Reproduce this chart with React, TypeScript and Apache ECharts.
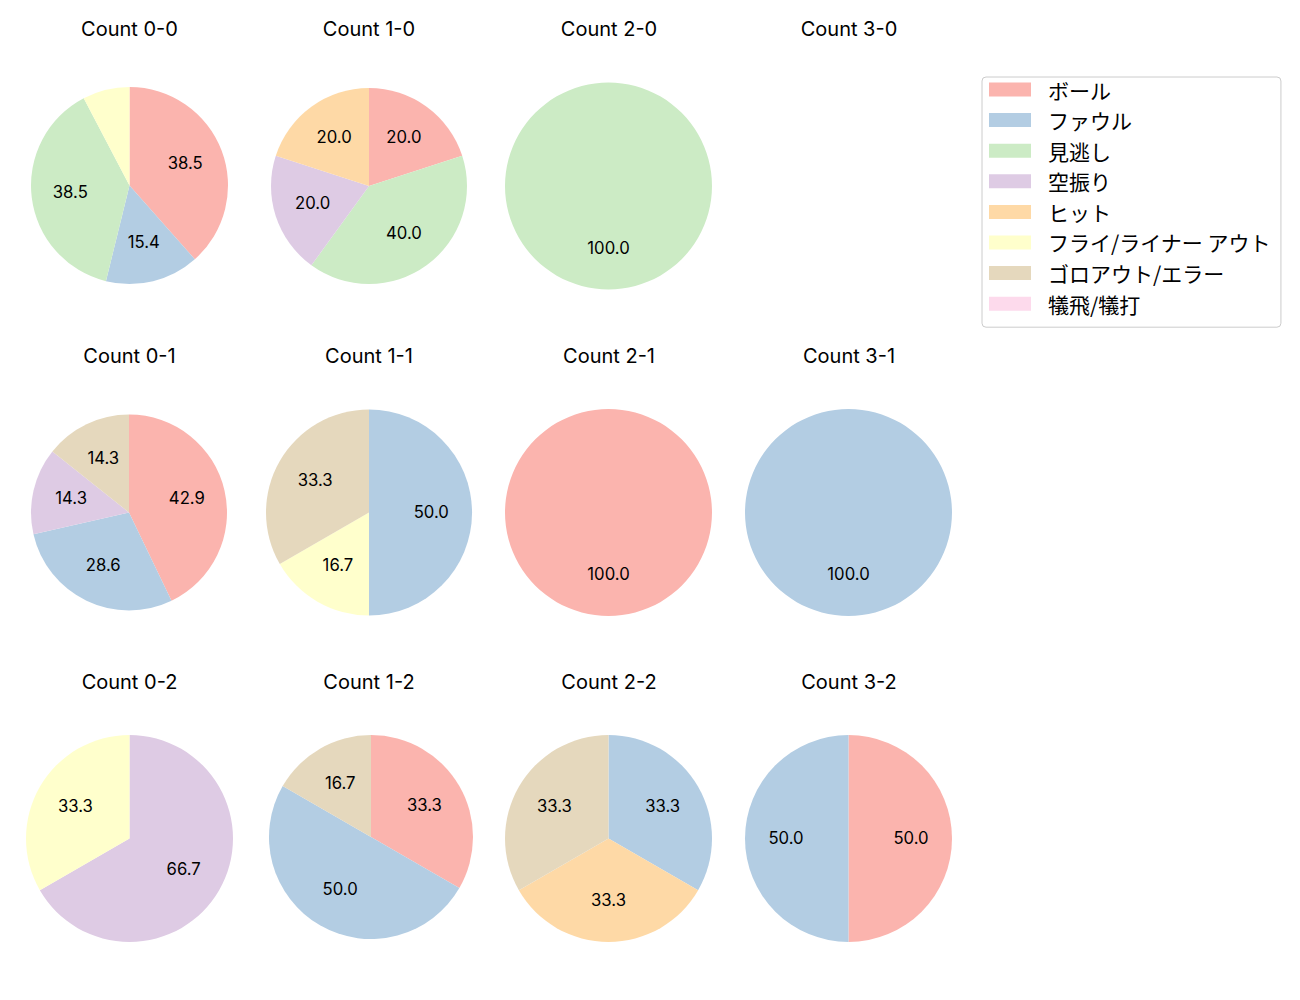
import React, { useEffect, useRef } from 'react';
import * as echarts from 'echarts';

const categories = [
  'ボール',
  'ファウル',
  '見逃し',
  '空振り',
  'ヒット',
  'フライ/ライナー アウト',
  'ゴロアウト/エラー',
  '犠飛/犠打',
];
const palette = ['#fbb4ae', '#b3cde3', '#ccebc5', '#decbe4', '#fed9a6', '#ffffcc', '#e5d8bd', '#fddaec'];

const countNames = ['0-0', '1-0', '2-0', '3-0', '0-1', '1-1', '2-1', '3-1', '0-2', '1-2', '2-2', '3-2'];

// pitch counts per category (same order as categories)
const count00 = [5, 2, 5, 0, 0, 1, 0, 0];
const count10 = [1, 0, 2, 1, 1, 0, 0, 0];
const count20 = [0, 0, 1, 0, 0, 0, 0, 0];
const count30 = [0, 0, 0, 0, 0, 0, 0, 0];
const count01 = [3, 2, 0, 1, 0, 0, 1, 0];
const count11 = [0, 3, 0, 0, 0, 1, 2, 0];
const count21 = [1, 0, 0, 0, 0, 0, 0, 0];
const count31 = [0, 1, 0, 0, 0, 0, 0, 0];
const count02 = [0, 0, 0, 2, 0, 1, 0, 0];
const count12 = [2, 3, 0, 0, 0, 0, 1, 0];
const count22 = [0, 1, 0, 0, 1, 0, 1, 0];
const count32 = [1, 1, 0, 0, 0, 0, 0, 0];
const countValues = [count00, count10, count20, count30, count01, count11, count21, count31, count02, count12, count22, count32];

// layout (pixels)
const pieCenterX = [129.5, 369, 608.5, 848.5, 129, 369, 608.5, 848.5, 129.5, 371, 608.5, 848.5];
const pieCenterY = [185.5, 186, 186, 186, 512.5, 512.5, 512.5, 512.5, 838.5, 837, 838.5, 838.5];
const pieRadius = [98.5, 98, 103.5, 103.5, 98, 103, 103.5, 103.5, 103.5, 102, 103.5, 103.5];
const titleX = [129.5, 369, 609, 849];
const titleY = [29, 356, 682];

const LATIN_FONT = "Inter, 'Noto Sans CJK JP'";
const CJK_FONT = "'Noto Sans CJK JP'";

export default function App() {
  const ref = useRef<HTMLDivElement>(null);
  useEffect(() => {
    document.body.style.margin = '0';
    const chart = echarts.init(ref.current!, null, { renderer: 'svg' });

    const titles: any[] = countNames.map((n, i) => ({
      text: 'Count ' + n,
      left: titleX[i % 4],
      top: titleY[Math.floor(i / 4)] - 11,
      textAlign: 'center',
      padding: 0,
      textStyle: { fontFamily: LATIN_FONT, fontSize: 20, fontWeight: 'normal', color: '#000', lineHeight: 22 },
    }));

    const pieSeries: any[] = [];
    const labelSeries: any[] = [];
    countValues.forEach((vals, i) => {
      const sum = vals.reduce((a, b) => a + b, 0);
      if (sum === 0) return;
      const center = [pieCenterX[i], pieCenterY[i]];
      const r = pieRadius[i];
      pieSeries.push({
        type: 'pie',
        name: 'Count ' + countNames[i],
        center,
        radius: [0, r],
        startAngle: 90,
        clockwise: true,
        silent: true,
        avoidLabelOverlap: false,
        label: { show: false },
        labelLine: { show: false },
        emphasis: { disabled: true },
        itemStyle: { borderWidth: 0 },
        data: categories.map((c, k) => ({ name: c, value: vals[k], itemStyle: { color: palette[k] } })),
      });
      labelSeries.push({
        type: 'pie',
        name: 'Count ' + countNames[i] + ' labels',
        center,
        radius: [0.15 * r, r],
        startAngle: 90,
        clockwise: true,
        silent: true,
        avoidLabelOverlap: false,
        emphasis: { disabled: true },
        itemStyle: { color: 'rgba(0,0,0,0)', borderWidth: 0 },
        labelLine: { show: false },
        label: {
          show: true,
          position: 'inside',
          fontFamily: LATIN_FONT,
          fontSize: 16.7,
          color: '#000',
          textBorderWidth: 0,
          offset: [0, -1],
          formatter: (p: any) => {
            const pct = (p.value / sum) * 100;
            return pct >= 10 ? pct.toFixed(1) : '';
          },
        },
        data: categories.map((c, k) => ({ name: c, value: vals[k] })),
      });
    });

    chart.setOption({
      animation: false,
      backgroundColor: '#fff',
      title: titles,
      legend: {
        orient: 'vertical',
        left: 982,
        top: 77,
        padding: [2, 10, 13, 7],
        itemWidth: 42,
        itemHeight: 14,
        itemGap: 9.6,
        icon: 'rect',
        borderColor: '#cccccc',
        borderWidth: 1,
        borderRadius: 4,
        selectedMode: false,
        data: categories,
        textStyle: { fontFamily: CJK_FONT, fontSize: 21, color: '#000', padding: [0, 0, 0, 12], lineHeight: 20 },
      },
      series: [...pieSeries, ...labelSeries],
    });
    return () => chart.dispose();
  }, []);
  return <div ref={ref} style={{ width: 1300, height: 1000 }} />;
}
